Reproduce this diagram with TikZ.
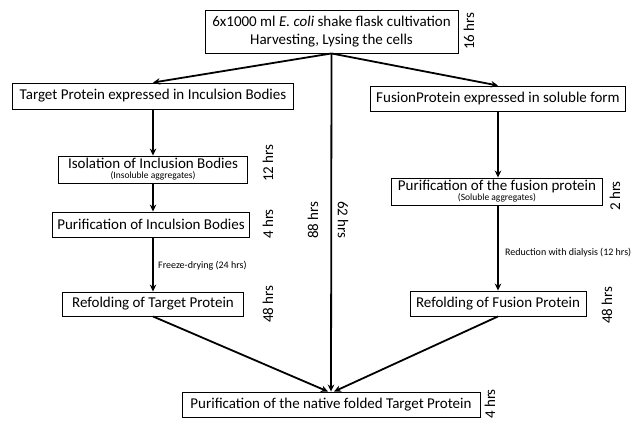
\documentclass[tikz,border=0pt]{standalone}
\usepackage{fontspec}
\setmainfont{Carlito}
\usetikzlibrary{arrows.meta}
\begin{document}
\begin{tikzpicture}[x=1pt,y=-1pt,
  box/.style={draw=black,line width=0.9pt,fill=white,inner sep=0pt,align=center,
    font=\fontsize{15}{17}\selectfont},
  hrs/.style={font=\fontsize{15}{16}\selectfont,inner sep=0pt},
  small/.style={font=\fontsize{10}{11}\selectfont,inner sep=0pt},
  arr/.style={line width=1.8pt,-{Stealth[length=7pt,width=6.5pt]}}]
\useasboundingbox (0,0) rectangle (631,420);
% boxes
\node[box,minimum width=253pt,minimum height=43pt,font=\fontsize{15}{18.5}\selectfont] (top) at (331.5,31.5)
  {6x1000 ml \textit{E. coli} shake flask cultivation\\Harvesting, Lysing the cells};
\node[box,minimum width=281pt,minimum height=26pt] (tp) at (153,96)
  {Target Protein expressed in Inculsion Bodies};
\node[box,minimum width=255pt,minimum height=25pt] (fp) at (498,98.5)
  {FusionProtein expressed in soluble form};
\node[box,minimum width=189pt,minimum height=27pt] (iso) at (153,169.5)
  {Isolation of Inclusion Bodies\\[-7pt]{\fontsize{9.5}{10}\selectfont (Insoluble aggregates)}};
\node[box,minimum width=197pt,minimum height=25pt] (pib) at (151,224.5)
  {Purification of Inculsion Bodies};
\node[box,minimum width=181pt,minimum height=24pt] (rtp) at (153,304)
  {Refolding of Target Protein};
\node[box,minimum width=211pt,minimum height=27pt] (pfp) at (497,191.5)
  {Purification of the fusion protein\\[-7pt]{\fontsize{9.5}{10}\selectfont (Soluble aggregates)}};
\node[box,minimum width=176pt,minimum height=25pt] (rfp) at (498,303.5)
  {Refolding of Fusion Protein};
\node[box,minimum width=298pt,minimum height=25pt] (bot) at (331,404.5)
  {Purification of the native folded Target Protein};
% time labels
\node[hrs,rotate=90] (t16) at (469,31) {16 hrs};
\node[hrs,rotate=90] (t12) at (268,163) {12 hrs};
\node[hrs,rotate=90] (t4a) at (268,224) {4 hrs};
\node[hrs,rotate=90] (t48a) at (268,304) {48 hrs};
\node[hrs,rotate=90] (t88) at (313,220) {88 hrs};
\node[hrs,rotate=-90] (t62) at (343,220) {62 hrs};
\node[hrs,rotate=90] (t2) at (615,196) {2 hrs};
\node[hrs,rotate=90] (t48b) at (607,305) {48 hrs};
\node[hrs,rotate=90] (t4b) at (490,404) {4 hrs};
% small notes
\node[small,anchor=west] (fd) at (158,266) {Freeze-drying (24 hrs)};
\node[small,anchor=west] (rd) at (505,253) {Reduction with dialysis (12 hrs)};
% connectors
\draw[arr] (top.south) -- (tp.north);
\draw[arr] (top.south) -- (fp.north);
\draw[arr] (top.south) -- (bot.north);
\draw[arr] (tp.south) -- (iso.north);
\draw[arr] (iso.south) -- (iso.south|-pib.north);
\draw[arr] (iso.south|-pib.south) -- (rtp.north);
\draw[arr] (fp.south) -- (fp.south|-pfp.north);
\draw[arr] (fp.south|-pfp.south) -- (fp.south|-rfp.north);
\draw[arr] (rtp.south) -- ([xshift=-3pt]bot.north);
\draw[arr] (rfp.south) -- ([xshift=3pt]bot.north);
\end{tikzpicture}
\end{document}
